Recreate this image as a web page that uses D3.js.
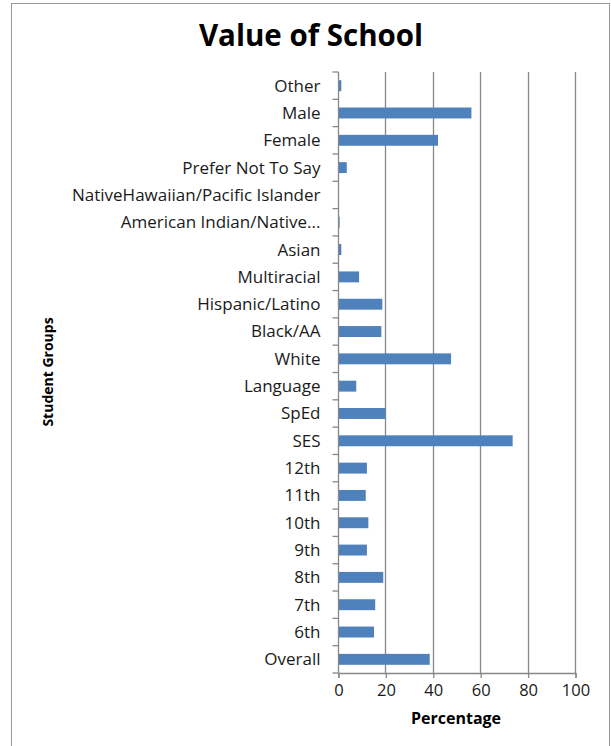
<!DOCTYPE html>
<html>
<head>
<meta charset="utf-8">
<script src="https://cdn.jsdelivr.net/npm/d3@7/dist/d3.min.js"></script>
<style>
  html, body { margin: 0; padding: 0; background: #fff; }
  svg { display: block; }
</style>
</head>
<body>
<svg id="chart" width="611" height="746"></svg>
<script>
// Student groups, listed bottom to top as they appear on the axis
const groups = [
  "Overall", "6th", "7th", "8th", "9th", "10th", "11th", "12th",
  "SES", "SpEd", "Language", "White", "Black/AA", "Hispanic/Latino",
  "Multiracial", "Asian", "American Indian/Native...",
  "NativeHawaiian/Pacific Islander", "Prefer Not To Say",
  "Female", "Male", "Other"
];
// Percentage for each group
const percentages = [
  38.7, 15.2, 15.7, 19.1, 12.2, 12.8, 11.7, 12.2,
  73.7, 20.0, 7.7, 47.7, 18.3, 18.7,
  8.9, 1.4, 0.7,
  0, 3.7,
  42.2, 56.3, 1.4
];
const xTicks = [0, 20, 40, 60, 80, 100];

const chartTitle = "Value of School";
const xTitle = "Percentage";
const yTitle = "Student Groups";

const svg = d3.select("#chart");
const font = "'Open Sans', 'Noto Sans', sans-serif";

// outer frame
svg.append("rect")
  .attr("x", 11.5).attr("y", 3.5)
  .attr("width", 598).attr("height", 750)
  .attr("fill", "#fff")
  .attr("stroke", "#9a9a9a").attr("stroke-width", 1);

const plot = { left: 338, right: 575, top: 72, bottom: 673 };

const x = d3.scaleLinear().domain([0, 100]).range([plot.left, plot.right]);
const y = d3.scaleBand()
  .domain(groups.slice().reverse())
  .range([plot.top, plot.bottom])
  .paddingInner(0.6).paddingOuter(0.3);

// vertical gridlines
svg.append("g")
  .selectAll("line")
  .data(xTicks.filter(t => t > 0))
  .join("line")
  .attr("x1", d => Math.round(x(d)) + 0.5).attr("x2", d => Math.round(x(d)) + 0.5)
  .attr("y1", plot.top).attr("y2", plot.bottom)
  .attr("stroke", "#878787").attr("stroke-width", 1.3);

// bars
svg.append("g")
  .selectAll("rect")
  .data(groups.map((g, i) => ({ g, v: percentages[i] })))
  .join("rect")
  .attr("x", x(0))
  .attr("y", d => y(d.g))
  .attr("width", d => x(d.v) - x(0))
  .attr("height", y.bandwidth())
  .attr("fill", "#4f81bd");

// category axis with ticks between categories
const yAxis = svg.append("g").attr("transform", `translate(${plot.left + 0.5},0)`);
yAxis.append("line")
  .attr("y1", plot.top).attr("y2", plot.bottom)
  .attr("stroke", "#878787").attr("stroke-width", 1.3);
const step = (plot.bottom - plot.top) / groups.length;
yAxis.selectAll("line.tick")
  .data(d3.range(groups.length + 1))
  .join("line")
  .attr("class", "tick")
  .attr("x1", -6).attr("x2", 0)
  .attr("y1", i => plot.top + i * step).attr("y2", i => plot.top + i * step)
  .attr("stroke", "#878787").attr("stroke-width", 1.3);
yAxis.selectAll("text")
  .data(groups)
  .join("text")
  .attr("x", -18)
  .attr("y", g => y(g) + y.bandwidth() / 2)
  .attr("dy", "0.35em")
  .attr("text-anchor", "end")
  .attr("font-family", font)
  .attr("font-size", 17)
  .attr("fill", "#1a1a1a")
  .text(g => g);

// value axis
const xAxis = d3.axisBottom(x).tickValues(xTicks).tickSize(5).tickPadding(6);
const xg = svg.append("g")
  .attr("transform", `translate(0.5,${plot.bottom})`)
  .call(xAxis);
xg.select(".domain").attr("stroke", "#878787").attr("stroke-width", 1.3);
xg.selectAll(".tick line").attr("stroke", "#878787").attr("stroke-width", 1.3);
xg.selectAll(".tick text")
  .attr("font-family", font)
  .attr("font-size", 16.5)
  .attr("fill", "#1a1a1a");

// titles
svg.append("text")
  .attr("x", 311).attr("y", 46)
  .attr("text-anchor", "middle")
  .attr("font-family", font)
  .attr("font-weight", "bold")
  .attr("font-size", 29.5)
  .attr("fill", "#000")
  .text(chartTitle);

svg.append("text")
  .attr("x", 456).attr("y", 724)
  .attr("text-anchor", "middle")
  .attr("font-family", font)
  .attr("font-weight", "bold")
  .attr("font-size", 16)
  .attr("fill", "#000")
  .text(xTitle);

svg.append("text")
  .attr("transform", "translate(53,372) rotate(-90)")
  .attr("text-anchor", "middle")
  .attr("font-family", font)
  .attr("font-weight", "bold")
  .attr("font-size", 14)
  .attr("fill", "#000")
  .text(yTitle);
</script>
</body>
</html>
